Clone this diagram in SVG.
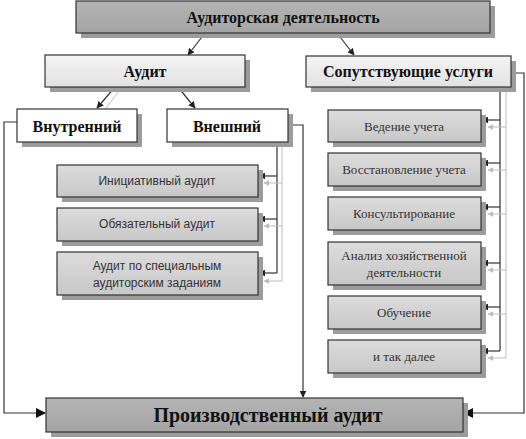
<svg xmlns="http://www.w3.org/2000/svg" width="526" height="439" viewBox="0 0 526 439">
<defs>
<style>
.sh{fill:#9c9c9c}
.bx{stroke:#333;stroke-width:1.2}
.dark{fill:url(#gDark)}
.mid{fill:url(#gMid)}
.light{fill:url(#gLight)}
.white{fill:#fff}
.tb{font-family:"Liberation Serif","Times New Roman",serif;font-weight:bold;fill:#111;text-anchor:middle;dominant-baseline:central}
.ts{font-family:"Liberation Sans",Arial,sans-serif;font-size:12px;fill:#333;text-anchor:middle;dominant-baseline:central}
.tr{font-family:"Liberation Serif","Times New Roman",serif;font-size:13px;fill:#333;text-anchor:middle;dominant-baseline:central}
.c{fill:none;stroke:#333;stroke-width:1.2}
.g{fill:none;stroke:#bdbdbd;stroke-width:1}
</style>
<linearGradient id="gDark" x1="0" y1="0" x2="0" y2="1"><stop offset="0" stop-color="#b4b4b4"/><stop offset="1" stop-color="#a4a4a4"/></linearGradient>
<linearGradient id="gMid" x1="0" y1="0" x2="0" y2="1"><stop offset="0" stop-color="#dcdcdc"/><stop offset="1" stop-color="#c8c8c8"/></linearGradient>
<linearGradient id="gLight" x1="0" y1="0" x2="0" y2="1"><stop offset="0" stop-color="#f4f4f4"/><stop offset="1" stop-color="#e2e2e2"/></linearGradient>
<marker id="a" viewBox="0 0 10 10" refX="9" refY="5" markerWidth="7" markerHeight="7" orient="auto" markerUnits="userSpaceOnUse"><path d="M0,0 L10,5 L0,10 z" fill="#222"/></marker>
<marker id="al" viewBox="0 0 10 10" refX="9" refY="5" markerWidth="10" markerHeight="10" orient="auto" markerUnits="userSpaceOnUse"><path d="M0,0 L10,5 L0,10 z" fill="#111"/></marker>
<marker id="ag" viewBox="0 0 10 10" refX="9" refY="5" markerWidth="6" markerHeight="6" orient="auto" markerUnits="userSpaceOnUse"><path d="M0,0 L10,5 L0,10 z" fill="#bdbdbd"/></marker>
</defs>

<g id="connectors">
<line class="c" x1="205" y1="33" x2="188" y2="55" marker-end="url(#a)"/>
<line class="c" x1="337" y1="33" x2="354" y2="55" marker-end="url(#a)"/>
<line class="c" x1="115" y1="87" x2="97" y2="108" marker-end="url(#a)"/>
<line class="g" x1="122" y1="87" x2="106" y2="108"/>
<line class="c" x1="178" y1="87" x2="195" y2="108" marker-end="url(#a)"/>
<polyline class="c" points="17,122 4,122 4,413 45,413" marker-end="url(#al)"/>
<polyline class="c" points="288,125 303,125 303,397" marker-end="url(#a)"/>
<line class="c" x1="277" y1="143" x2="277" y2="273"/>
<line class="c" x1="277" y1="176" x2="259" y2="176" marker-end="url(#a)"/>
<line class="c" x1="277" y1="219" x2="259" y2="219" marker-end="url(#a)"/>
<line class="c" x1="277" y1="273" x2="259" y2="273" marker-end="url(#a)"/>
<line class="g" x1="282" y1="143" x2="282" y2="281"/>
<line class="g" x1="282" y1="183" x2="264" y2="183" marker-end="url(#ag)"/>
<line class="g" x1="282" y1="226" x2="264" y2="226" marker-end="url(#ag)"/>
<line class="g" x1="282" y1="281" x2="264" y2="281" marker-end="url(#ag)"/>
<line class="c" x1="500" y1="87" x2="500" y2="351"/>
<line class="c" x1="500" y1="120" x2="482" y2="120" marker-end="url(#a)"/>
<line class="c" x1="500" y1="163" x2="482" y2="163" marker-end="url(#a)"/>
<line class="c" x1="500" y1="207" x2="482" y2="207" marker-end="url(#a)"/>
<line class="c" x1="500" y1="263" x2="482" y2="263" marker-end="url(#a)"/>
<line class="c" x1="500" y1="307" x2="482" y2="307" marker-end="url(#a)"/>
<line class="c" x1="500" y1="351" x2="482" y2="351" marker-end="url(#a)"/>
<line class="g" x1="506" y1="92" x2="506" y2="358"/>
<line class="g" x1="506" y1="127" x2="488" y2="127" marker-end="url(#ag)"/>
<line class="g" x1="506" y1="170" x2="488" y2="170" marker-end="url(#ag)"/>
<line class="g" x1="506" y1="214" x2="488" y2="214" marker-end="url(#ag)"/>
<line class="g" x1="506" y1="270" x2="488" y2="270" marker-end="url(#ag)"/>
<line class="g" x1="506" y1="314" x2="488" y2="314" marker-end="url(#ag)"/>
<line class="g" x1="506" y1="358" x2="488" y2="358" marker-end="url(#ag)"/>
<polyline class="c" points="511,73 524,73 524,413 464,413" marker-end="url(#al)"/>
</g>

<g id="n-top">
<rect class="sh" x="81" y="6" width="414" height="32"/>
<rect class="bx dark" x="76" y="1" width="414" height="32"/>
<text class="tb" x="283" y="17" font-size="16">Аудиторская деятельность</text>
</g>

<g id="n-audit">
<rect class="sh" x="50" y="60" width="200" height="32"/>
<rect class="bx light" x="45" y="55" width="200" height="32"/>
<text class="tb" x="145" y="71" font-size="16">Аудит</text>
</g>

<g id="n-services">
<rect class="sh" x="311" y="61" width="205" height="31"/>
<rect class="bx light" x="306" y="56" width="205" height="31"/>
<text class="tb" x="408" y="71" font-size="16">Сопутствующие услуги</text>
</g>

<g id="n-internal">
<rect class="sh" x="22" y="114" width="120" height="33"/>
<rect class="bx white" x="17" y="109" width="120" height="33"/>
<text class="tb" x="77" y="126" font-size="16">Внутренний</text>
</g>

<g id="n-external">
<rect class="sh" x="172" y="114" width="121" height="33"/>
<rect class="bx white" x="167" y="109" width="121" height="33"/>
<text class="tb" x="227" y="126" font-size="16">Внешний</text>
</g>

<g id="n-initiative">
<rect class="sh" x="62" y="170" width="201" height="32"/>
<rect class="bx mid" x="57" y="165" width="201" height="32"/>
<text class="ts" x="157" y="181">Инициативный аудит</text>
</g>

<g id="n-mandatory">
<rect class="sh" x="62" y="213" width="201" height="33"/>
<rect class="bx mid" x="57" y="208" width="201" height="33"/>
<text class="ts" x="157" y="224">Обязательный аудит</text>
</g>

<g id="n-special">
<rect class="sh" x="62" y="257" width="201" height="43"/>
<rect class="bx mid" x="57" y="252" width="201" height="43"/>
<text class="ts" x="157" y="266">Аудит по специальным</text>
<text class="ts" x="157" y="283">аудиторским заданиям</text>
</g>

<g id="n-accounting">
<rect class="sh" x="333" y="115" width="153" height="32"/>
<rect class="bx mid" x="328" y="110" width="153" height="32"/>
<text class="tr" x="404" y="126">Ведение учета</text>
</g>

<g id="n-restore">
<rect class="sh" x="333" y="158" width="153" height="33"/>
<rect class="bx mid" x="328" y="153" width="153" height="33"/>
<text class="tr" x="404" y="169">Восстановление учета</text>
</g>

<g id="n-consult">
<rect class="sh" x="333" y="202" width="153" height="33"/>
<rect class="bx mid" x="328" y="197" width="153" height="33"/>
<text class="tr" x="404" y="213">Консультирование</text>
</g>

<g id="n-analysis">
<rect class="sh" x="333" y="247" width="153" height="43"/>
<rect class="bx mid" x="328" y="242" width="153" height="43"/>
<text class="tr" x="404" y="255">Анализ хозяйственной</text>
<text class="tr" x="404" y="272">деятельности</text>
</g>

<g id="n-training">
<rect class="sh" x="333" y="301" width="153" height="33"/>
<rect class="bx mid" x="328" y="296" width="153" height="33"/>
<text class="tr" x="404" y="312">Обучение</text>
</g>

<g id="n-etc">
<rect class="sh" x="333" y="345" width="153" height="33"/>
<rect class="bx mid" x="328" y="340" width="153" height="33"/>
<text class="tr" x="404" y="356">и так далее</text>
</g>

<g id="n-production">
<rect class="sh" x="51" y="403" width="417" height="34"/>
<rect class="bx dark" x="46" y="398" width="417" height="34"/>
<text class="tb" x="268" y="415" font-size="20">Производственный аудит</text>
</g>
</svg>
